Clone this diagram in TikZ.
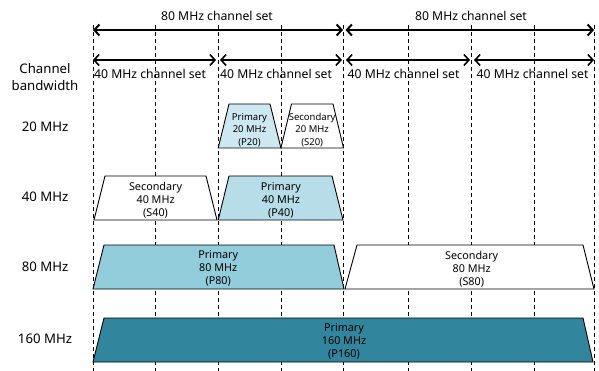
\documentclass[tikz,border=0pt]{standalone}
\usepackage{fontspec}
\setmainfont{Noto Sans}
\usetikzlibrary{arrows.meta}
\definecolor{pa}{HTML}{CDE8F0}
\definecolor{pb}{HTML}{B7DEE8}
\definecolor{pc}{HTML}{92CDDC}
\definecolor{pd}{HTML}{31859C}
\begin{document}
\begin{tikzpicture}[x=1pt,y=-1pt,
  gridline/.style={line width=0.8pt,dash pattern=on 4pt off 3pt},
  bigarrow/.style={line width=2pt,{Straight Barb[length=5pt,width=11pt]}-{Straight Barb[length=5pt,width=11pt]}},
  midarrow/.style={line width=1.6pt,{Straight Barb[length=5pt,width=11pt]}-{Straight Barb[length=5pt,width=11pt]}},
  trap/.style={draw=black,line width=0.9pt,line join=miter},
  setlabel/.style={font=\fontsize{12.2}{14}\selectfont,inner sep=0pt},
  rowlabel/.style={font=\fontsize{13.2}{16.5}\selectfont,align=center,inner sep=0pt},
  boxtext/.style={font=\fontsize{10.8}{13}\selectfont,align=center,inner sep=0pt},
  smalltext/.style={font=\fontsize{9.5}{12.5}\selectfont,align=center,inner sep=0pt}]
\useasboundingbox (0,0) rectangle (599,371);
% grid lines
\foreach \x in {93,155.6,218.2,280.9,343.5,408.5,471.7,534.8,594}
  \draw[gridline] (\x,25) -- (\x,371);
% arrow end points
\coordinate (a1) at (93,30);
\coordinate (a2) at (343,30);
\coordinate (a3) at (345.5,30);
\coordinate (a4) at (594,30);
\coordinate (b1) at (93,60);
\coordinate (b2) at (216,60);
\coordinate (b3) at (220,60);
\coordinate (b4) at (342,60);
\coordinate (b5) at (346,60);
\coordinate (b6) at (470,60);
\coordinate (b7) at (474,60);
\coordinate (b8) at (594,60);
\draw[bigarrow] (a1) -- (a2);
\draw[bigarrow] (a3) -- (a4);
\draw[midarrow] (b1) -- (b2);
\draw[midarrow] (b3) -- (b4);
\draw[midarrow] (b5) -- (b6);
\draw[midarrow] (b7) -- (b8);
% set labels
\node[setlabel] (t1) at (217,16) {80 MHz channel set};
\node[setlabel] (t2) at (471,16) {80 MHz channel set};
\node[setlabel,anchor=west] (u1) at (94,74) {40 MHz channel set};
\node[setlabel,anchor=west] (u2) at (220,74) {40 MHz channel set};
\node[setlabel,anchor=west] (u3) at (347.5,74) {40 MHz channel set};
\node[setlabel,anchor=west] (u4) at (476.5,74) {40 MHz channel set};
% row labels
\node[rowlabel] (r0) at (45,77) {Channel\\bandwidth};
\node[rowlabel] (r1) at (45,127) {20 MHz};
\node[rowlabel] (r2) at (45,197) {40 MHz};
\node[rowlabel] (r3) at (45,267) {80 MHz};
\node[rowlabel] (r4) at (45,339) {160 MHz};
% 20 MHz
\filldraw[trap,fill=pa] (218.2,148) -- (229,104) -- (270,104) -- (280.9,148) -- cycle;
\filldraw[trap,fill=white] (280.9,148) -- (291.5,104) -- (333,104) -- (343.5,148) -- cycle;
\node[smalltext] (p20) at (249.5,130) {Primary\\20 MHz\\(P20)};
\node[smalltext] (s20) at (312.2,130) {Secondary\\20 MHz\\(S20)};
% 40 MHz
\filldraw[trap,fill=white] (94,220) -- (105,176) -- (206,176) -- (217,220) -- cycle;
\filldraw[trap,fill=pb] (218.2,220) -- (229,176) -- (332,176) -- (343,220) -- cycle;
\node[boxtext] (s40) at (155.6,200) {Secondary\\40 MHz\\(S40)};
\node[boxtext] (p40) at (280.9,200) {Primary\\40 MHz\\(P40)};
% 80 MHz
\filldraw[trap,fill=pc] (93,289) -- (104,245) -- (334,245) -- (344,289) -- cycle;
\filldraw[trap,fill=white] (345,289) -- (357,245) -- (583,245) -- (594,289) -- cycle;
\node[boxtext] (p80) at (218.2,268) {Primary\\80 MHz\\(P80)};
\node[boxtext] (s80) at (471.7,269) {Secondary\\80 MHz\\(S80)};
% 160 MHz
\filldraw[trap,fill=pd] (93,362) -- (104,318) -- (583,318) -- (593,362) -- cycle;
\node[boxtext] (p160) at (344,341) {Primary\\160 MHz\\(P160)};
\end{tikzpicture}
\end{document}
